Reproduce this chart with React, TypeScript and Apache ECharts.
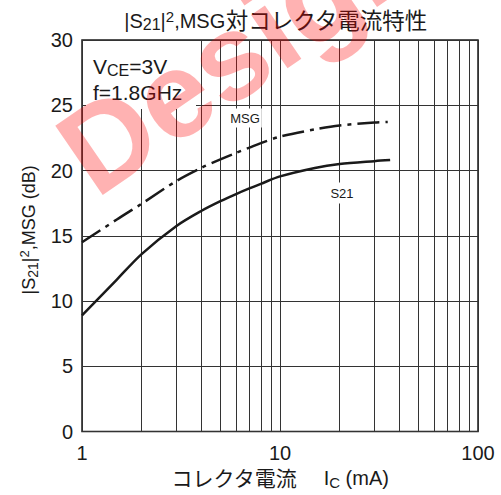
import React, { useEffect, useRef } from 'react';
import * as echarts from 'echarts';

// Collector current (mA) and gain (dB)
const s21Current = [1, 1.5, 2, 3, 4, 5, 6, 7, 8, 10, 15, 20, 30, 36];
const s21Gain = [8.9, 11.65, 13.6, 15.75, 16.9, 17.65, 18.2, 18.63, 18.98, 19.55, 20.2, 20.5, 20.72, 20.8];
const msgCurrent = [1, 1.5, 2, 3, 4, 5, 6, 7, 8, 10, 15, 20, 30, 35];
const msgGain = [14.5, 16.25, 17.45, 19.2, 20.2, 20.85, 21.35, 21.75, 22.1, 22.6, 23.15, 23.45, 23.68, 23.72];
const minorGridX = [2, 3, 4, 5, 6, 7, 8, 9, 20, 30, 40, 50, 60, 70, 80, 90];
const xRange = [1, 100];
const yRange = [0, 30];
const yStep = 5;

const F = '"Liberation Sans", Arial, "Noto Sans CJK JP", sans-serif';
const INK = '#1a1a1a';

export default function App() {
  const ref = useRef<HTMLDivElement>(null);
  useEffect(() => {
    if (!ref.current) return;
    const chart = echarts.init(ref.current, undefined, { renderer: 'svg' });
    const option: any = {
      animation: false,
      backgroundColor: '#ffffff',
      grid: { left: 82, right: 23, top: 40, bottom: 62, show: true, borderColor: INK, borderWidth: 1.5, backgroundColor: 'transparent' },
      xAxis: {
        type: 'log',
        logBase: 10,
        min: xRange[0],
        max: xRange[1],
        axisLine: { show: false },
        axisTick: { show: false },
        axisLabel: { fontSize: 20, color: INK, fontFamily: F, margin: 11 },
        splitLine: { show: true, lineStyle: { color: '#333', width: 1 } },
        name: '{c|コレクタ電流　}{t| I}{sub|C}{t| (mA)}',
        nameLocation: 'middle',
        nameGap: 32,
        nameTextStyle: {
          rich: {
            c: { fontSize: 21, fontFamily: F, color: INK, lineHeight: 24 },
            t: { fontSize: 20, fontFamily: F, color: INK, lineHeight: 24 },
            sub: { fontSize: 15, fontFamily: F, color: INK, lineHeight: 15, verticalAlign: 'bottom' },
          },
        },
      },
      yAxis: {
        type: 'value',
        min: yRange[0],
        max: yRange[1],
        interval: yStep,
        axisLine: { show: false },
        axisTick: { show: false },
        axisLabel: { fontSize: 20, color: INK, fontFamily: F, margin: 9 },
        splitLine: { show: true, lineStyle: { color: '#333', width: 1 } },
        name: '{t||S}{s|21}{t||}{sup|2}{t|,MSG (dB)}',
        nameLocation: 'middle',
        nameRotate: 90,
        nameGap: 40,
        nameTextStyle: {
          padding: [0, 0, 0, 12],
          rich: {
            t: { fontSize: 18, fontFamily: F, color: INK, lineHeight: 22 },
            s: { fontSize: 14, fontFamily: F, color: INK, lineHeight: 19, verticalAlign: 'bottom' },
            sup: { fontSize: 13, fontFamily: F, color: INK, lineHeight: 13, verticalAlign: 'top' },
          },
        },
      },
      graphic: [
        {
          type: 'text', x: 276, y: 9, z: 10, silent: true,
          style: {
            text: '{t||S}{s|21}{t||}{sup|2}{t|,MSG}{c|対コレクタ電流特性}',
            align: 'center', verticalAlign: 'top', fill: INK,
            rich: {
              t: { fontSize: 20, fontFamily: F, fill: INK, lineHeight: 24 },
              s: { fontSize: 16, fontFamily: F, fill: INK, lineHeight: 21, verticalAlign: 'bottom' },
              sup: { fontSize: 15, fontFamily: F, fill: INK, lineHeight: 15, verticalAlign: 'top' },
              c: { fontSize: 22.5, fontFamily: F, fill: INK, lineHeight: 24 },
            },
          },
        },
        { type: 'rect', z: 3, silent: true, shape: { x: 86, y: 41, width: 110, height: 68 }, style: { fill: '#ffffff' } },
        {
          type: 'text', x: 93, y: 53, z: 4, silent: true,
          style: {
            text: '{v|V}{sub|CE}{v|=3V}\n{v|f=1.8GHz}',
            align: 'left', verticalAlign: 'top', fill: INK,
            rich: {
              v: { fontSize: 21, fontFamily: F, fill: INK, lineHeight: 26 },
              sub: { fontSize: 16, fontFamily: F, fill: INK, lineHeight: 16, verticalAlign: 'bottom' },
            },
          },
        },
        {
          type: 'text', x: 245, y: 118, z: 4, silent: true,
          style: { text: 'MSG', font: `13px ${F}`, fill: INK, align: 'center', verticalAlign: 'middle', backgroundColor: '#ffffff', padding: [3, 2, 3, 2] },
        },
        {
          type: 'text', x: 342, y: 193, z: 4, silent: true,
          style: { text: 'S21', font: `13px ${F}`, fill: INK, align: 'center', verticalAlign: 'middle', backgroundColor: '#ffffff', padding: [4, 2, 4, 2] },
        },
        {
          type: 'text', x: 240, y: 50, z: 100, silent: true, rotation: 0.6,
          style: { text: 'Design', font: `bold 122px ${F}`, fill: '#ff0000', opacity: 0.3, align: 'center', verticalAlign: 'middle' },
        },
      ],
      series: [
        {
          name: 'S21',
          type: 'line',
          z: 5,
          smooth: 0.3,
          symbol: 'none',
          lineStyle: { color: INK, width: 2.5 },
          data: s21Current.map((c, i) => [c, s21Gain[i]]),
          markLine: {
            silent: true,
            z: 1,
            symbol: ['none', 'none'],
            label: { show: false },
            lineStyle: { color: '#333', width: 1, type: 'solid' },
            data: minorGridX.map((v) => ({ xAxis: v })),
          },
        },
        {
          name: 'MSG',
          type: 'line',
          z: 5,
          smooth: 0.3,
          symbol: 'none',
          lineStyle: { color: INK, width: 2.5, type: [22, 6, 4, 6] },
          data: msgCurrent.map((c, i) => [c, msgGain[i]]),
        },
      ],
    };
    chart.setOption(option);
    return () => chart.dispose();
  }, []);
  return <div ref={ref} style={{ position: 'absolute', left: 0, top: 0, width: 501, height: 495 }} />;
}
